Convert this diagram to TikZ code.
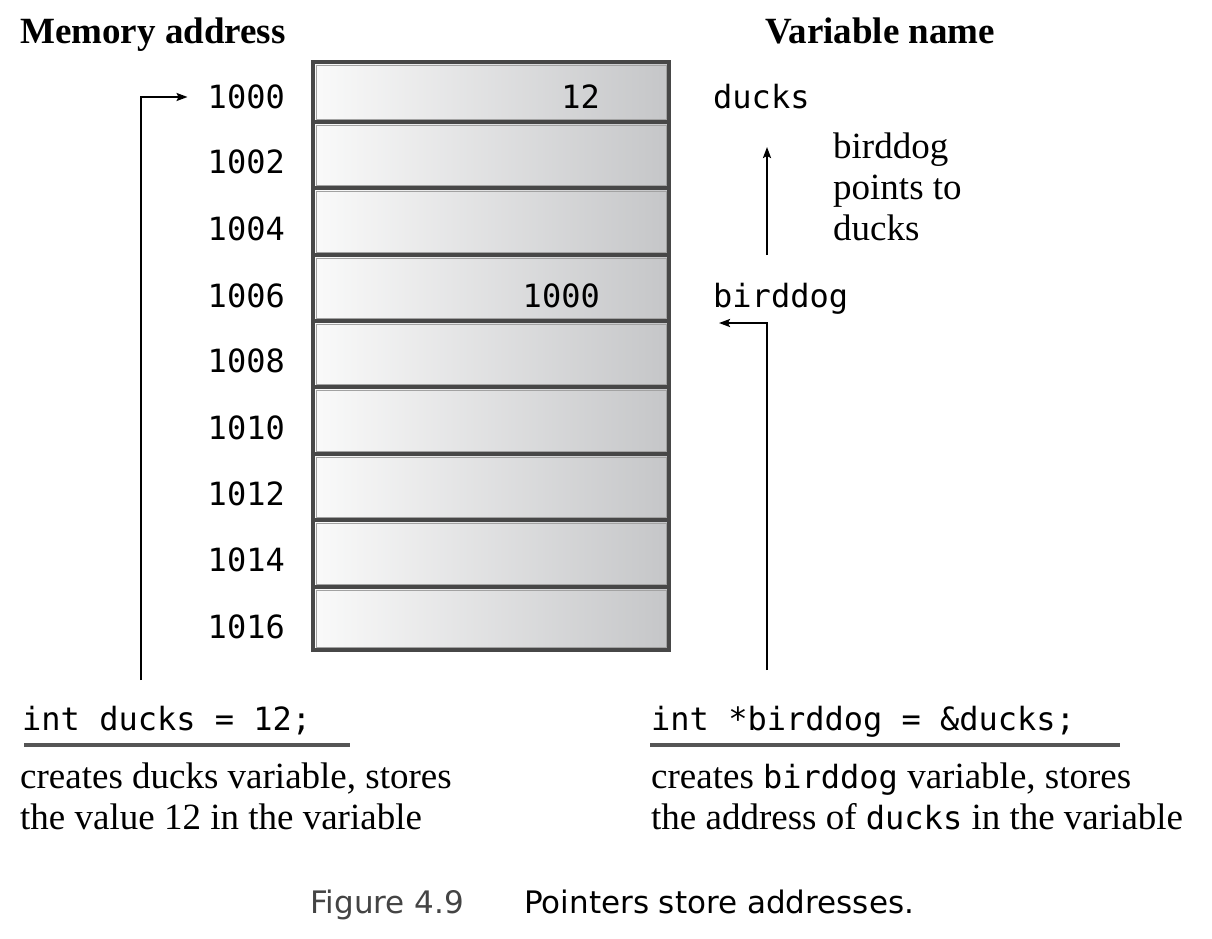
\documentclass[tikz,border=0pt]{standalone}
\usepackage{fontspec}
\setmainfont{Liberation Serif}
\newfontfamily\codefont{DejaVu Sans Mono}
\newfontfamily\capfont{DejaVu Sans}
\usetikzlibrary{arrows.meta}
\definecolor{celldark}{HTML}{474747}
\definecolor{cellinner}{HTML}{A2A2A2}
\definecolor{cellright}{HTML}{C5C6C8}
\definecolor{rulegray}{HTML}{555555}
\definecolor{capgray}{HTML}{444444}
\tikzset{
  cell/.style={draw=celldark, line width=4pt, left color=white!98!black, right color=cellright,
    minimum width=356pt, inner sep=0pt, outer sep=0pt, anchor=north west},
  addr/.style={font=\codefont\fontsize{32}{38}\selectfont, inner sep=0pt, anchor=base east},
  val/.style={font=\codefont\fontsize{32}{38}\selectfont, inner sep=0pt, anchor=base east},
  var/.style={font=\codefont\fontsize{32}{38}\selectfont, inner sep=0pt, anchor=base west},
  code/.style={font=\codefont\fontsize{32}{38}\selectfont, inner sep=0pt, anchor=base west},
  head/.style={font=\bfseries\fontsize{37}{42}\selectfont, inner sep=0pt, anchor=base west},
  note/.style={font=\fontsize{37}{41}\selectfont, inner sep=0pt, anchor=base west},
  arr/.style={line width=2pt, -{Stealth[length=11pt,width=8pt,inset=2pt]}},
  underrule/.style={line width=4pt, draw=rulegray},
}
\newcommand{\cf}{\codefont\fontsize{32}{38}\selectfont}
\begin{document}
\begin{tikzpicture}[x=1pt,y=-1pt]
\useasboundingbox (0,0) rectangle (1212,938);
% headings
\node[head] (hmem) at (20,43) {Memory address};
\node[head] (hvar) at (765,43) {Variable name};
% memory cells
\foreach \t/\b [count=\i from 0] in {62/122,122/188,188/255,255/321,321/387,387/454,454/520,520/587,587/650}{
  \pgfmathsetmacro{\h}{\b-\t}
  \node[cell, minimum height=\h pt] (c\i) at (313,\t) {};
  \draw[cellinner, line width=1pt] ([shift={(3,3)}]c\i.north west) rectangle ([shift={(-3,-3)}]c\i.south east);
}
% addresses
\foreach \a/\y [count=\i from 0] in {1000/108,1002/173,1004/240,1006/307,1008/372,1010/439,1012/505,1014/571,1016/638}{
  \node[addr] (a\i) at (285,\y) {\a};
}
% values
\node[val] (v0) at (600,108) {12};
\node[val] (v3) at (600,307) {1000};
% variable names
\node[var] (nducks) at (713,108) {ducks};
\node[var] (nbird) at (713,307) {birddog};
% explanation near arrow
\node[note] (p1) at (833,158) {birddog};
\node[note] (p2) at (833,199) {points to};
\node[note] (p3) at (833,240) {ducks};
% arrows
\coordinate (upS) at (767,255);
\coordinate (upE) at (767,147);
\draw[arr] (upS) -- (upE);
\coordinate (lS) at (141,680);
\draw[arr] (lS) |- ([xshift=-20pt,yshift=11pt]a0.base west);
\coordinate (rS) at (767,670);
\coordinate (rE) at (719,323);
\draw[arr] (rS) |- (rE);
% code lines
\node[code] (code1) at (22,730) {int ducks = 12;};
\node[code] (code2) at (651,730) {int *birddog = \&ducks;};
\draw[underrule] (24,745) -- (350,745);
\draw[underrule] (650,745) -- (1120,745);
% descriptions
\node[note] (d1a) at (20,788) {creates ducks variable, stores};
\node[note] (d1b) at (20,829) {the value 12 in the variable};
\node[note] (d2a) at (651,788) {creates {\cf birddog} variable, stores};
\node[note] (d2b) at (651,829) {the address of {\cf ducks} in the variable};
% caption
\node[font=\capfont\fontsize{31}{36}\selectfont, text=capgray, inner sep=0pt, anchor=base west] (figno) at (310,913) {Figure 4.9};
\node[font=\capfont\fontsize{31}{36}\selectfont, inner sep=0pt, anchor=base west] (figcap) at (524,913) {Pointers store addresses.};
\end{tikzpicture}
\end{document}
